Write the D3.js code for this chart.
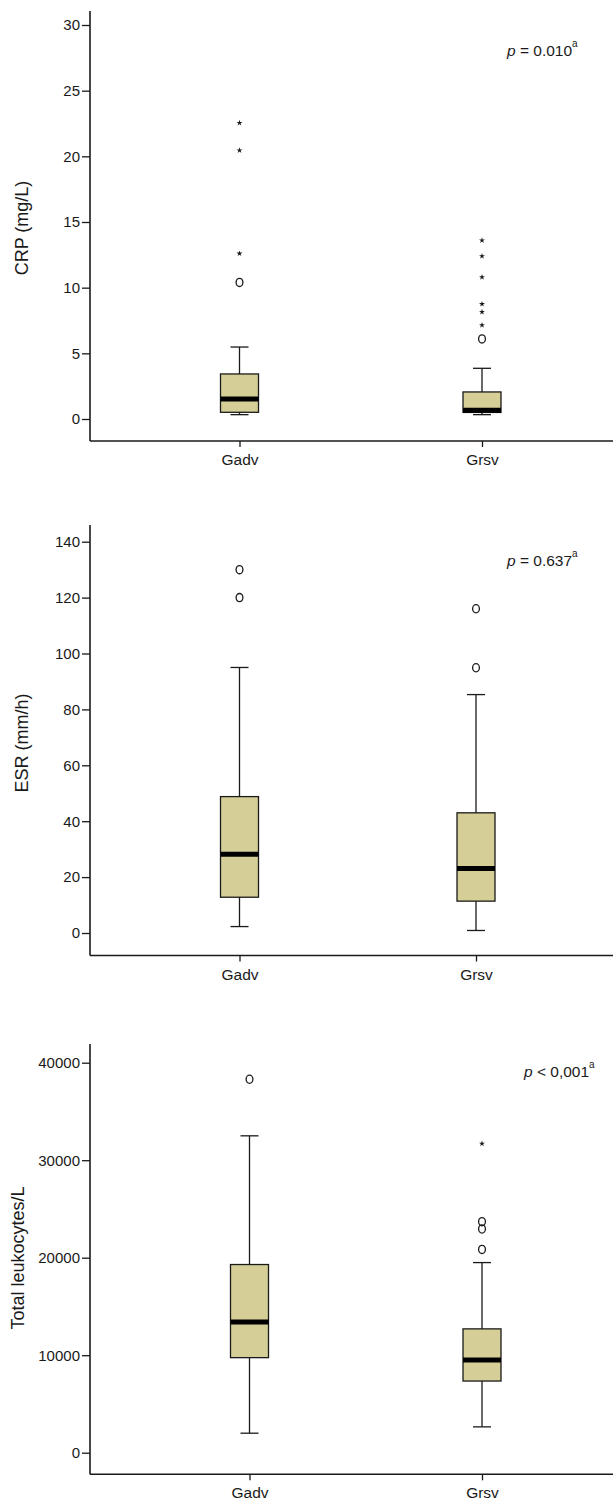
<!DOCTYPE html>
<html>
<head>
<meta charset="utf-8">
<script src="https://cdn.jsdelivr.net/npm/d3@7"></script>
<style>
  body { margin: 0; background: #fff; }
  svg { display: block; font-family: "Liberation Sans", Arial, sans-serif; }
</style>
</head>
<body>
<svg id="chart"></svg>
<script>
// groups on the x axis
const groups = ["Gadv", "Grsv"];

// box stats per group: [lower whisker, Q1, median, Q3, upper whisker]
const crpBox = [[0.33, 0.51, 1.52, 3.43, 5.48], [0.33, 0.5, 0.66, 2.06, 3.86]];
const crpCircles = [[10.4], [6.1]];
const crpStars = [[12.6, 20.45, 22.55], [7.15, 8.15, 8.75, 10.8, 12.4, 13.6]];
const crpTicks = [0, 5, 10, 15, 20, 25, 30];

const esrBox = [[2.3, 12.8, 28.2, 48.8, 95], [0.9, 11.4, 23.1, 43, 85.3]];
const esrCircles = [[120, 130], [94.9, 116]];
const esrStars = [[], []];
const esrTicks = [0, 20, 40, 60, 80, 100, 120, 140];

const wbcBox = [[2000, 9750, 13400, 19300, 32500], [2650, 7350, 9500, 12700, 19500]];
const wbcCircles = [[38300], [20850, 22950, 23700]];
const wbcStars = [[], [31700]];
const wbcTicks = [0, 10000, 20000, 30000, 40000];

const panels = [
    { label: "CRP (mg/L)", p: ["p", " = 0.010", "a"], box: crpBox, circles: crpCircles, stars: crpStars, ticks: crpTicks,
      domain: [0, 30], y0: 419, y1: 25, axTop: 11, axBottom: 441, xs: [239.5, 482], labelY: 228, labelX: 22, pX: 507, pY: 56 },
    { label: "ESR (mm/h)", p: ["p", " = 0.637", "a"], box: esrBox, circles: esrCircles, stars: esrStars, ticks: esrTicks,
      domain: [0, 140], y0: 933, y1: 541.7, axTop: 525, axBottom: 955.5, xs: [239.5, 476], labelY: 743, labelX: 22, pX: 507, pY: 566 },
    { label: "Total leukocytes/L", p: ["p", " < 0,001", "a"], box: wbcBox, circles: wbcCircles, stars: wbcStars, ticks: wbcTicks,
      domain: [0, 40000], y0: 1452.7, y1: 1062.7, axTop: 1044, axBottom: 1474.3, xs: [249.5, 482], labelY: 1258, labelX: 18, pX: 524, pY: 1077 }
];

const [width, height] = [613, 1500];
const axisX = 90;
const boxW = 38, capW = 18;
const fill = "#d5cf97", ink = "#1a1a1a";

const svg = d3.select("#chart")
    .attr("width", width)
    .attr("height", height);

panels.forEach(pn => {
    const yScale = d3.scaleLinear().domain(pn.domain).range([pn.y0, pn.y1]);
    const xScale = d3.scalePoint().domain(groups).range(pn.xs);
    const g = svg.append("g");

    // y axis
    const yAxis = d3.axisLeft(yScale).tickValues(pn.ticks).tickSize(8).tickPadding(2).tickFormat(d3.format("d"));
    g.append("g")
        .attr("transform", `translate(${axisX},0)`)
        .call(yAxis)
        .call(s => s.select(".domain").remove())
        .call(s => s.selectAll("line").attr("stroke", ink).attr("stroke-width", 1.3))
        .call(s => s.selectAll("text").attr("fill", ink).style("font-size", "15px"));
    g.append("line")
        .attr("x1", axisX).attr("x2", axisX)
        .attr("y1", pn.axTop).attr("y2", pn.axBottom)
        .attr("stroke", ink).attr("stroke-width", 1.6);

    // x axis
    const xAxis = d3.axisBottom(xScale).tickSize(6).tickPadding(7);
    g.append("g")
        .attr("transform", `translate(0,${pn.axBottom})`)
        .call(xAxis)
        .call(s => s.select(".domain").remove())
        .call(s => s.selectAll("line").attr("stroke", ink).attr("stroke-width", 1.3))
        .call(s => s.selectAll("text").attr("fill", ink).style("font-size", "15.5px"));
    g.append("line")
        .attr("x1", axisX).attr("x2", width)
        .attr("y1", pn.axBottom).attr("y2", pn.axBottom)
        .attr("stroke", ink).attr("stroke-width", 1.6);

    // y label
    g.append("text")
        .attr("transform", `translate(${pn.labelX},${pn.labelY}) rotate(-90)`)
        .attr("text-anchor", "middle")
        .attr("dy", "0.35em")
        .attr("fill", ink)
        .style("font-size", "18px")
        .text(pn.label);

    // p value
    const pt = g.append("text")
        .attr("x", pn.pX).attr("y", pn.pY)
        .attr("fill", ink)
        .style("font-size", "15.5px");
    pt.append("tspan").style("font-style", "italic").text(pn.p[0]);
    pt.append("tspan").text(pn.p[1]);
    pt.append("tspan").attr("dy", -9).style("font-size", "10px").text(pn.p[2]);

    // boxes
    groups.forEach((grp, i) => {
        const [lo, q1, med, q3, hi] = pn.box[i];
        const cx = xScale(grp);
        const bg = g.append("g");
        bg.append("line")
            .attr("x1", cx).attr("x2", cx)
            .attr("y1", yScale(hi)).attr("y2", yScale(lo))
            .attr("stroke", ink).attr("stroke-width", 1.3);
        [lo, hi].forEach(v => {
            bg.append("line")
                .attr("x1", cx - capW / 2).attr("x2", cx + capW / 2)
                .attr("y1", yScale(v)).attr("y2", yScale(v))
                .attr("stroke", ink).attr("stroke-width", 1.3);
        });
        bg.append("rect")
            .attr("x", cx - boxW / 2).attr("width", boxW)
            .attr("y", yScale(q3)).attr("height", yScale(q1) - yScale(q3))
            .attr("fill", fill).attr("stroke", ink).attr("stroke-width", 1.3);
        bg.append("line")
            .attr("x1", cx - boxW / 2).attr("x2", cx + boxW / 2)
            .attr("y1", yScale(med)).attr("y2", yScale(med))
            .attr("stroke", "#000").attr("stroke-width", 5);

        bg.selectAll("ellipse")
            .data(pn.circles[i])
            .join("ellipse")
            .attr("cx", cx).attr("cy", d => yScale(d))
            .attr("rx", 3.4).attr("ry", 4.1)
            .attr("fill", "none").attr("stroke", ink).attr("stroke-width", 1.3);

        bg.selectAll("path.star")
            .data(pn.stars[i])
            .join("path")
            .attr("class", "star")
            .attr("transform", d => `translate(${cx},${yScale(d)})`)
            .attr("d", d3.symbol(d3.symbolStar, 11))
            .attr("fill", ink);
    });
});
</script>
</body>
</html>
